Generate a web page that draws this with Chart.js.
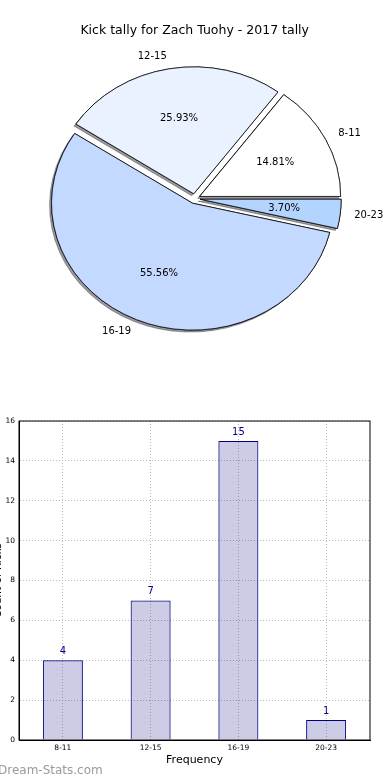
<!DOCTYPE html>
<html>
<head>
<meta charset="utf-8">
<script src="https://cdn.jsdelivr.net/npm/chart.js@4.4.1/dist/chart.umd.min.js"></script>
<style>
  body { margin: 0; background: #fff; width: 390px; height: 780px; overflow: hidden; position: relative; }
  #pieChart { position: absolute; left: 0; top: 0; }
  #barChart { position: absolute; left: -10px; top: 400px; }
  #mark { position: absolute; left: -2px; top: 763px; font: 12px "DejaVu Sans"; color: #9a9a9a; }
</style>
</head>
<body>
<canvas id="pieChart" width="390" height="400"></canvas>
<canvas id="barChart" width="400" height="380"></canvas>
<div id="mark">Dream-Stats.com</div>
<script>
// data
const categories = ["8-11", "12-15", "16-19", "20-23"];
const kicks = [4, 7, 15, 1];
const yTicks = [0, 2, 4, 6, 8, 10, 12, 14, 16];

const pieColors = ["#ffffff", "#eaf2ff", "#c4d9ff", "#b3d4ff"];

Chart.defaults.font.family = "'DejaVu Sans', sans-serif";
Chart.defaults.color = "#000";

// matplotlib goes counter-clockwise from 3 o'clock, chart.js clockwise -> reverse
const pieLabels = categories.slice().reverse();
const pieData = kicks.slice().reverse();
const pieBg = pieColors.slice().reverse();
const total = kicks.reduce((a, b) => a + b, 0);

const SY = 0.9;      // pie is a bit squashed vertically
const EXPLODE = 5.5; // px each wedge is pulled out

function shiftArc(ctx, arc) {
  const mid = (arc.startAngle + arc.endAngle) / 2;
  ctx.save();
  ctx.translate(Math.cos(mid) * EXPLODE, Math.sin(mid) * EXPLODE);
  arc.draw(ctx);
  ctx.restore();
}

const explodePie = {
  id: "explodePie",
  beforeDatasetsDraw(chart) {
    const ctx = chart.ctx;
    const arcs = chart.getDatasetMeta(0).data;
    const cx = arcs[0].x, cy = arcs[0].y;
    ctx.save();
    ctx.translate(cx, cy);
    ctx.scale(1, SY);
    ctx.translate(-cx, -cy);
    // shadow pass
    ctx.shadowColor = "rgba(50,50,60,0.5)";
    ctx.shadowOffsetX = -2;
    ctx.shadowOffsetY = 2;
    arcs.forEach((a) => shiftArc(ctx, a));
    ctx.shadowColor = "rgba(0,0,0,0)";
    arcs.forEach((a) => shiftArc(ctx, a));
    ctx.restore();
    return false;
  },
  afterDraw(chart) {
    const ctx = chart.ctx;
    const arcs = chart.getDatasetMeta(0).data;
    ctx.save();
    ctx.font = "10px 'DejaVu Sans'";
    ctx.fillStyle = "#000";
    ctx.textBaseline = "middle";
    arcs.forEach((arc, i) => {
      const mid = (arc.startAngle + arc.endAngle) / 2;
      const c = Math.cos(mid), s = Math.sin(mid);
      const r = arc.outerRadius;
      // category label
      let d = EXPLODE + 1.1 * r;
      ctx.textAlign = c > 0 ? "left" : "right";
      ctx.fillText(pieLabels[i], arc.x + d * c, arc.y + d * s * SY);
      // percent
      d = EXPLODE + 0.6 * r;
      ctx.textAlign = "center";
      const pct = ((pieData[i] / total) * 100).toFixed(2) + "%";
      ctx.fillText(pct, arc.x + d * c, arc.y + d * s * SY);
    });
    ctx.restore();
  },
};

new Chart(document.getElementById("pieChart"), {
  type: "pie",
  data: {
    labels: pieLabels,
    datasets: [
      {
        data: pieData,
        backgroundColor: pieBg,
        borderColor: "#000",
        borderWidth: 0.8,
      },
    ],
  },
  options: {
    responsive: false,
    animation: false,
    rotation: 90,
    radius: 141,
    layout: { padding: { left: 0, right: 0.6, top: 0, bottom: 40.7 } },
    plugins: {
      legend: { display: false },
      tooltip: { enabled: false },
      title: {
        display: true,
        text: "Kick tally for Zach Tuohy - 2017 tally",
        font: { size: 12.5, weight: "normal" },
        color: "#000",
        padding: { top: 23, bottom: 0 },
      },
    },
  },
  plugins: [explodePie],
});

// bar value labels + full frame
const barExtras = {
  id: "barExtras",
  afterDraw(chart) {
    const ctx = chart.ctx;
    const a = chart.chartArea;
    ctx.save();
    ctx.strokeStyle = "#000";
    ctx.lineWidth = 1;
    ctx.strokeRect(a.left, a.top, a.right - a.left, a.bottom - a.top);
    ctx.font = "10px 'DejaVu Sans'";
    ctx.fillStyle = "#00008b";
    ctx.textAlign = "center";
    ctx.textBaseline = "middle";
    chart.getDatasetMeta(0).data.forEach((bar, i) => {
      ctx.fillText(String(kicks[i]), bar.x, bar.y - 9);
    });
    ctx.restore();
  },
};

new Chart(document.getElementById("barChart"), {
  type: "bar",
  data: {
    labels: categories,
    datasets: [
      {
        data: kicks,
        backgroundColor: "rgba(0,0,128,0.2)",
        borderColor: "#000080",
        borderWidth: 1,
        barPercentage: 0.456,
        categoryPercentage: 1,
      },
    ],
  },
  options: {
    responsive: false,
    animation: false,
    layout: { padding: { top: 21, right: 20, left: 0, bottom: 0 } },
    plugins: {
      legend: { display: false },
      tooltip: { enabled: false },
    },
    scales: {
      x: {
        grid: { offset: false, color: "#bbbbbb", drawTicks: false },
        border: { color: "#000", width: 1, dash: [1, 2] },
        ticks: { font: { size: 7.5 }, color: "#000", padding: 3.5 },
        title: {
          display: true,
          text: "Frequency",
          font: { size: 11 },
          color: "#000",
          padding: { top: 0, bottom: 13.4 },
        },
        afterFit(scale) {
          scale.height = 40;
        },
      },
      y: {
        min: 0,
        max: 16,
        afterBuildTicks(scale) {
          scale.ticks = yTicks.map((v) => ({ value: v }));
        },
        grid: { color: "#bbbbbb", drawTicks: false },
        border: { color: "#000", width: 1, dash: [1, 2] },
        ticks: { font: { size: 7.5 }, color: "#000", padding: 4 },
        title: {
          display: true,
          text: "Count of Kicks",
          font: { size: 10.5 },
          color: "#000",
          padding: { top: 1.5, bottom: 0 },
        },
        afterFit(scale) {
          scale.width = 29;
        },
      },
    },
  },
  plugins: [barExtras],
});
</script>
</body>
</html>
